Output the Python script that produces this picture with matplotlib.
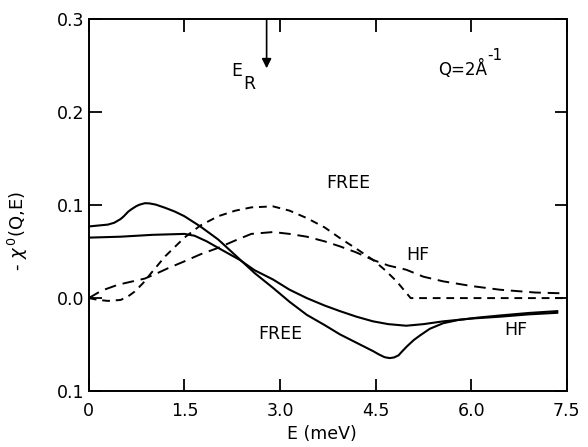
import matplotlib
matplotlib.use("Agg")
import matplotlib.pyplot as plt

# ---- data ----
free_solid_E = [0, 0.3, 0.4, 0.5, 0.55, 0.62, 0.68, 0.75, 0.8, 0.88, 0.95, 1.05, 1.2, 1.35,
                1.5, 1.75, 2.03, 2.3, 2.6, 2.89, 3.15, 3.42, 3.7, 3.94, 4.2, 4.46, 4.55,
                4.64, 4.72, 4.79, 4.86, 4.92, 4.99, 5.1, 5.2, 5.35, 5.56, 5.8, 6.1, 6.45,
                6.9, 7.35]
free_solid_y = [0.077, 0.079, 0.081, 0.085, 0.088, 0.093, 0.096, 0.099, 0.1005, 0.102, 0.1018,
                0.1005, 0.097, 0.093, 0.088, 0.077, 0.063, 0.046, 0.027, 0.011, -0.004,
                -0.018, -0.029, -0.039, -0.048, -0.057, -0.0605, -0.0635, -0.0645, -0.0638,
                -0.0615, -0.057, -0.052, -0.045, -0.040, -0.033, -0.027, -0.0235, -0.021,
                -0.0187, -0.016, -0.0140]

hf_solid_E = [0, 0.5, 1.0, 1.5, 1.66, 1.85, 2.03, 2.37, 2.6, 2.89, 3.15, 3.42, 3.7, 3.94,
              4.2, 4.46, 4.7, 4.98, 5.25, 5.56, 6.0, 6.45, 6.9, 7.35]
hf_solid_y = [0.065, 0.066, 0.068, 0.069, 0.067, 0.061, 0.054, 0.041, 0.030, 0.020, 0.009,
              0.0, -0.008, -0.014, -0.020, -0.025, -0.028, -0.0297, -0.028, -0.025, -0.022,
              -0.0200, -0.0175, -0.0158]

free_dash_E = [0, 0.15, 0.3, 0.5, 0.62, 0.72, 0.85, 0.98, 1.2, 1.5, 1.75, 2.03, 2.3, 2.55,
               2.89, 3.15, 3.42, 3.7, 3.94, 4.2, 4.46, 4.65, 4.83, 5.05, 7.5]
free_dash_y = [0.0, -0.002, -0.003, -0.002, 0.002, 0.007, 0.016, 0.027, 0.045, 0.065, 0.078,
               0.088, 0.094, 0.0975, 0.0986, 0.094, 0.086, 0.076, 0.0645, 0.053, 0.041,
               0.030, 0.018, 0.0, 0.0]

hf_dash_E = [0, 0.2, 0.46, 0.88, 1.05, 1.24, 1.5, 1.75, 2.03, 2.3, 2.55, 2.89, 3.15, 3.42,
             3.7, 3.94, 4.2, 4.46, 4.7, 4.98, 5.25, 5.56, 6.0, 6.45, 7.0, 7.5]
hf_dash_y = [0.0, 0.008, 0.0144, 0.021, 0.026, 0.032, 0.0395, 0.047, 0.054, 0.062, 0.069,
             0.071, 0.069, 0.066, 0.061, 0.0556, 0.049, 0.041, 0.035, 0.0305, 0.023, 0.018,
             0.013, 0.009, 0.006, 0.005]

x_ticks = [0, 1.5, 3.0, 4.5, 6.0, 7.5]
x_tick_labels = ["0", "1.5", "3.0", "4.5", "6.0", "7.5"]
y_ticks = [-0.1, 0.0, 0.1, 0.2, 0.3]
y_tick_labels = ["0.1", "0.0", "0.1", "0.2", "0.3"]
E_R = 2.79

# ---- figure ----
plt.rcParams['font.family'] = ['DejaVu Sans']
fig = plt.figure(figsize=(5.88, 4.47), dpi=100)
ax = fig.add_axes([0.151, 0.125, 0.813, 0.8325])

lc = "black"
ax.plot(free_solid_E, free_solid_y, color=lc, lw=1.5)
ax.plot(hf_solid_E, hf_solid_y, color=lc, lw=1.5)
ax.plot(free_dash_E, free_dash_y, color=lc, lw=1.4, dashes=(4, 3))
ax.plot(hf_dash_E, hf_dash_y, color=lc, lw=1.4, dashes=(6, 3.5))

ax.set_xlim(0, 7.5)
ax.set_ylim(-0.1, 0.3)
ax.set_xticks(x_ticks)
ax.set_xticklabels(x_tick_labels)
ax.set_yticks(y_ticks)
ax.set_yticklabels(y_tick_labels)
ax.tick_params(direction="in", length=9, width=1.3, top=True, right=True,
               labelsize=12.5)
ax.tick_params(axis="x", pad=8)
ax.tick_params(axis="y", pad=3)
for s in ax.spines.values():
    s.set_linewidth(1.4)

ax.set_xlabel("E (meV)", fontsize=12.5)
ax.xaxis.set_label_coords(0.487, -0.09)
ax.set_ylabel(r"- $\chi^{\,0}$(Q,E)", fontsize=13)
ax.yaxis.set_label_coords(-0.123, 0.43)

# curve labels
fs = 12.5
ax.text(4.07, 0.124, "FREE", fontsize=fs, ha="center", va="center")
ax.text(5.16, 0.046, "HF", fontsize=fs, ha="center", va="center")
ax.text(3.0, -0.039, "FREE", fontsize=fs, ha="center", va="center")
ax.text(6.7, -0.034, "HF", fontsize=fs, ha="center", va="center")

# E_R arrow
ax.annotate("", xy=(E_R, 0.247), xytext=(E_R, 0.3),
            arrowprops=dict(arrowstyle="-|>", color="black", lw=1.2,
                            mutation_scale=14, shrinkA=0, shrinkB=0))
ax.text(2.32, 0.244, "E", fontsize=fs, ha="center", va="center")
ax.text(2.52, 0.230, "R", fontsize=fs, ha="center", va="center")

# Q label
ax.text(5.48, 0.246, "Q=2Å", fontsize=12, ha="left", va="center")
ax.text(6.25, 0.261, "-1", fontsize=11, ha="left", va="center")

fig.savefig("out.png", dpi=100)
